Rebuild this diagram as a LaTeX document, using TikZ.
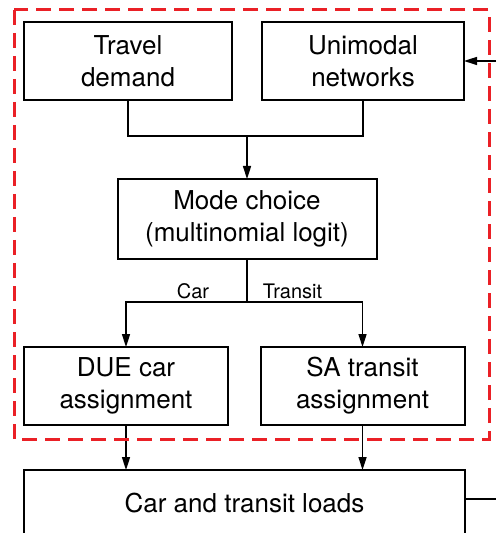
\documentclass[tikz,border=0pt]{standalone}
\usepackage{fontspec}
\setmainfont{TeX Gyre Heros}
\usepackage{xcolor}
\usepackage{tikz}
\usetikzlibrary{positioning, arrows.meta, calc}

\definecolor{dashred}{RGB}{234,32,38}

\begin{document}
\begin{tikzpicture}[
    x=0.5pt, y=-0.5pt,
    boxnode/.style={rectangle, draw=black, line width=1pt, align=center, inner sep=0pt, outer sep=0pt,
        minimum height=39pt, font=\fontsize{13}{16}\selectfont},
    lblnode/.style={inner sep=1.5pt, font=\fontsize{10}{12}\selectfont},
    flowline/.style={line width=0.8pt},
    flowarrow/.style={line width=0.8pt, -{Triangle[length=6.5pt, width=4pt]}},
    redbox/.style={draw=dashred, line width=1.5pt, dash pattern=on 7.5pt off 4pt},
]
\clip (0,0) rectangle (496,533);
\useasboundingbox (0,0) rectangle (496,533);

\node[boxnode, minimum width=104pt](travel) at (128,61){Travel\\demand};
\node[boxnode, minimum width=101pt](unimodal) at (363,61){Unimodal\\networks};
\node[boxnode, minimum width=129.5pt, minimum height=40pt](mode) at (247,219){Mode choice\\(multinomial logit)};
\node[boxnode, minimum width=102pt](due) at (126,386){DUE car\\assignment};
\node[boxnode, minimum width=102pt](sa) at (362.5,386){SA transit\\assignment};
\node[boxnode, minimum width=220.5pt, minimum height=33pt](loads) at (244.5,503){Car and transit loads};

\coordinate (join) at (247,136);
\coordinate (split) at (247,302);
\coordinate (fbin) at (496,61);
\coordinate (fbout) at (496,499);

\draw[flowline] (travel.south) |- (join) -| (unimodal.south);
\draw[flowarrow] (join) -- (mode.north);
\draw[flowline] (mode.south) -- (split);
\draw[flowarrow] (split) -| (due.north);
\draw[flowarrow] (split) -| (sa.north);
\node[lblnode, anchor=south](carlbl) at (193,302){Car};
\node[lblnode, anchor=south](transitlbl) at (292.5,302){Transit};

\draw[flowarrow] (due.south) -- (due.south |- loads.north);
\draw[flowarrow] (sa.south) -- (sa.south |- loads.north);

% feedback from loads back to networks
\draw[flowarrow] (fbin) -- (unimodal.east);
\draw[flowline] (loads.east |- fbout) -- (fbout);

\draw[redbox] (14,10) rectangle (489,439);
\end{tikzpicture}
\end{document}
